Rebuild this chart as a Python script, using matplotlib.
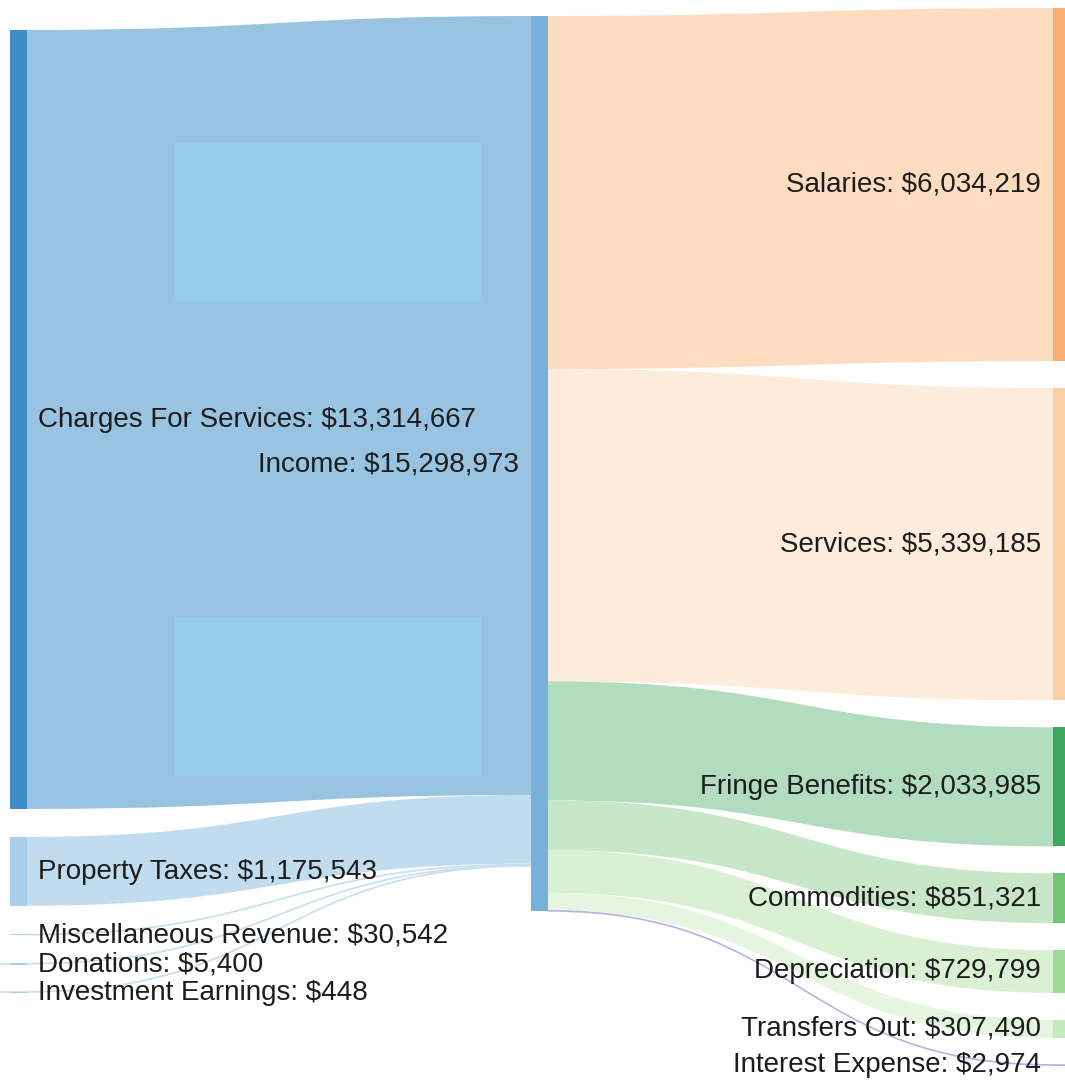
import matplotlib
matplotlib.use("Agg")
import matplotlib.pyplot as plt
from matplotlib.path import Path
from matplotlib.patches import PathPatch, Rectangle

# data
sources = ["Charges For Services", "Property Taxes", "Miscellaneous Revenue",
           "Donations", "Investment Earnings"]
source_values = [13314667, 1175543, 30542, 5400, 448]
hub_name = "Income"
expenses = ["Salaries", "Services", "Fringe Benefits", "Commodities",
            "Depreciation", "Transfers Out", "Interest Expense"]
expense_values = [6034219, 5339185, 2033985, 851321, 729799, 307490, 2974]
hub_value = sum(expense_values)

# colours
source_node_colors = ["#3f8cc6", "#a9cfea", "#a9cfea", "#a9cfea", "#a9cfea"]
source_flow_colors = ["#98c4e2", "#c2dcef", "#c8dff0", "#c8dff0", "#c8dff0"]
hub_color = "#78b2da"
expense_node_colors = ["#f8ad72", "#fbd0a8", "#3ea55a", "#74c476",
                       "#a1d99b", "#c7e9c0", "#b9b2df"]
expense_flow_colors = ["#fddcc0", "#fdebdb", "#b2dcbe", "#c8e6c8",
                       "#d9f0d3", "#e5f5e0", "#b9b2df"]

W, H = 1065, 1083
scale = 895.0 / hub_value   # px per dollar
gap_left, gap_right = 28, 27
node_w = 17
x_left, x_mid, x_right = 10, 531, 1053
top_left, top_mid, top_right = 30, 16, 8

fig = plt.figure(figsize=(W / 100, H / 100), dpi=100)
ax = fig.add_axes([0, 0, 1, 1])
ax.set_xlim(0, W)
ax.set_ylim(H, 0)
ax.axis("off")


def band(x0, y0a, y0b, x1, y1a, y1b, color, z=1):
    xm = (x0 + x1) / 2
    if (y0b - y0a) < 1.5:
        yc0 = (y0a + y0b) / 2
        yc1 = (y1a + y1b) / 2
        verts = [(x0, yc0), (xm, yc0), (xm, yc1), (x1, yc1)]
        codes = [Path.MOVETO, Path.CURVE4, Path.CURVE4, Path.CURVE4]
        ax.add_patch(PathPatch(Path(verts, codes), fc="none", ec=color,
                               lw=1.2, zorder=z))
        return
    verts = [(x0, y0a), (xm, y0a), (xm, y1a), (x1, y1a),
             (x1, y1b), (xm, y1b), (xm, y0b), (x0, y0b), (x0, y0a)]
    codes = [Path.MOVETO, Path.CURVE4, Path.CURVE4, Path.CURVE4,
             Path.LINETO, Path.CURVE4, Path.CURVE4, Path.CURVE4, Path.CLOSEPOLY]
    ax.add_patch(PathPatch(Path(verts, codes), fc=color, ec="none", zorder=z))


def node(x, y0, y1, color):
    h = max(y1 - y0, 1.2)
    ax.add_patch(Rectangle((x, y0), node_w, h, fc=color, ec="none", zorder=3))


font = dict(family=["Liberation Sans", "DejaVu Sans"], fontsize=20,
            color="#1c1c1c", zorder=5)

# left column -> hub
y = top_left
hub_y = top_mid
for name, v, nc, fc in zip(sources, source_values, source_node_colors,
                           source_flow_colors):
    h = v * scale
    band(x_left + node_w, y, y + h, x_mid, hub_y, hub_y + h, fc)
    node(x_left, y, y + h, nc)
    if h < 1.5:
        ax.plot([0, x_left + node_w], [y + h / 2] * 2, color=fc, lw=1.2, zorder=2)
    ax.text(x_left + node_w + 11, y + h / 2 + 1, f"{name}: ${v:,}",
            ha="left", va="center", **font)
    y += h + gap_left
    hub_y += h

# hub -> right column
y = top_right
hub_y = top_mid
for name, v, nc, fc in zip(expenses, expense_values, expense_node_colors,
                           expense_flow_colors):
    h = v * scale
    band(x_mid + node_w, hub_y, hub_y + h, x_right, y, y + h, fc)
    node(x_right, y, y + h, nc)
    if h < 1.5:
        ax.plot([x_right, W], [y + h / 2] * 2, color=fc, lw=1.2, zorder=2)
    ax.text(x_right - 12, y + h / 2, f"{name}: ${v:,}",
            ha="right", va="center", **font)
    y += h + gap_right
    hub_y += h

# hub node
hub_h = hub_value * scale
node(x_mid, top_mid, top_mid + hub_h, hub_color)
ax.text(x_mid - 12, top_mid + hub_h / 2 + 1, f"{hub_name}: ${hub_value:,}",
        ha="right", va="center", **font)

# pale boxes sitting on the big flow
for by in (143, 617):
    ax.add_patch(Rectangle((175, by), 306, 159, fc="#99cbeb", ec="none", zorder=2))

fig.savefig("out.png", dpi=100)
